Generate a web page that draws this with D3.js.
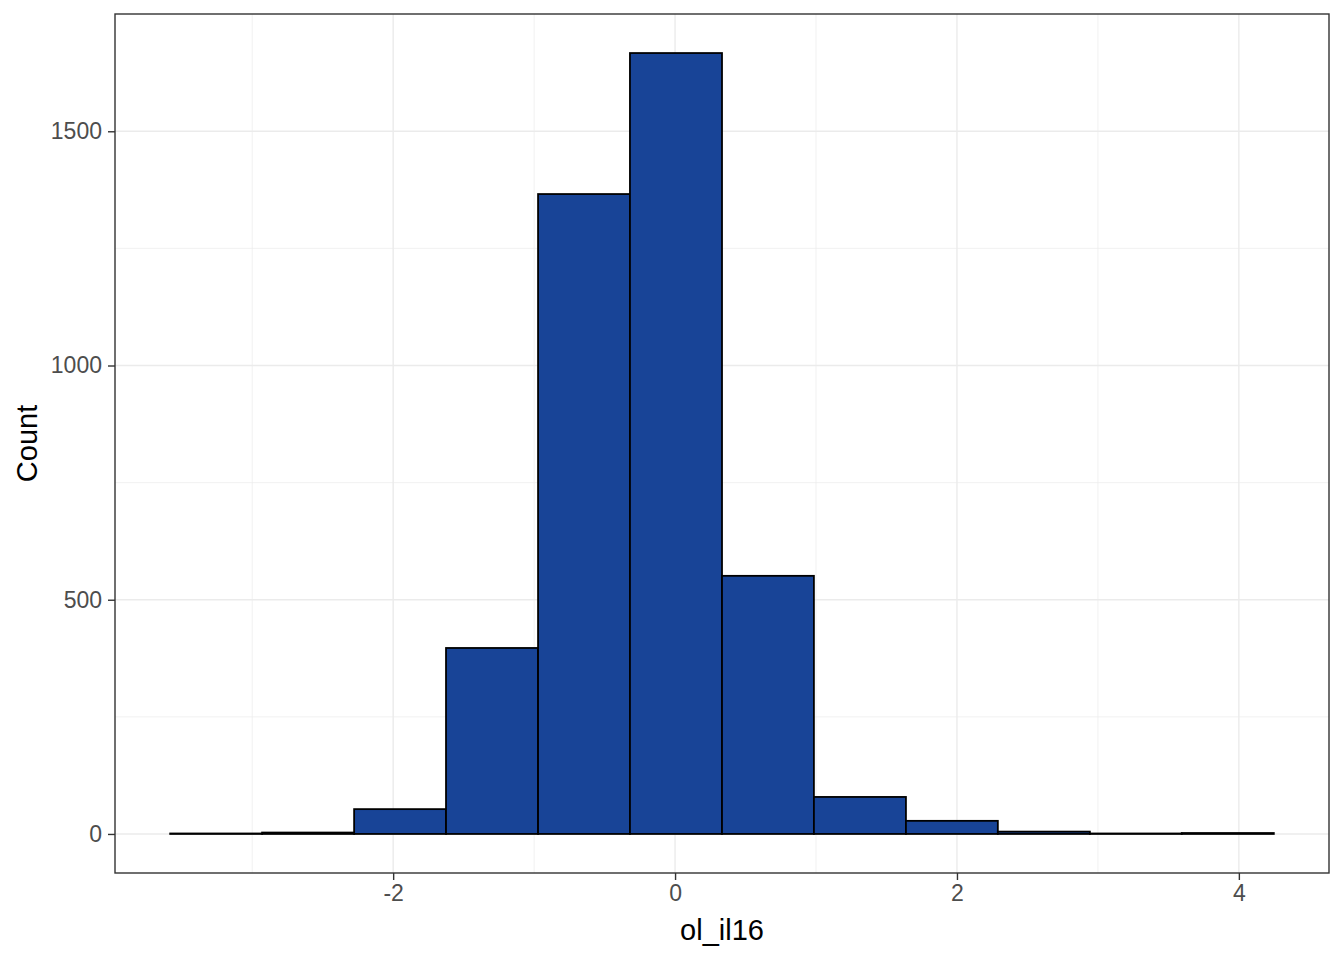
<!DOCTYPE html>
<html>
<head>
<meta charset="utf-8">
<script src="https://cdn.jsdelivr.net/npm/d3@7"></script>
<style>
  html, body { margin: 0; padding: 0; background: #fff; }
  svg { display: block; font-family: "Liberation Sans", Arial, sans-serif; }
</style>
</head>
<body>
<svg id="chart" width="1344" height="960"></svg>
<script>
// Histogram bin edges (13 edges -> 12 bins) and counts
const binEdges = [-3.582, -2.930, -2.277, -1.625, -0.972, -0.320, 0.333, 0.985, 1.638, 2.290, 2.943, 3.595, 4.248];
const counts = [1, 3, 53, 397, 1366, 1667, 551, 79, 28, 5, 1, 2];
const xTicks = [-2, 0, 2, 4];
const xMinor = [-3, -1, 1, 3];
const yTicks = [0, 500, 1000, 1500];
const yMinor = [250, 750, 1250];
const xTitle = "ol_il16";
const yTitle = "Count";

const W = 1344, H = 960;
const m = {left: 115, right: 15, top: 14, bottom: 87};
const svg = d3.select("#chart");

const bins = counts.map((c, i) => ({x0: binEdges[i], x1: binEdges[i + 1], n: c}));

const xmin = binEdges[0], xmax = binEdges[binEdges.length - 1];
const xpad = (xmax - xmin) * 0.05;
const ymax = d3.max(counts), ypad = ymax * 0.05;

const x = d3.scaleLinear().domain([xmin - xpad, xmax + xpad]).range([m.left, W - m.right]);
const y = d3.scaleLinear().domain([-ypad, ymax + ypad]).range([H - m.bottom, m.top]);

const g = svg.append("g");

// minor grid
g.selectAll(".xminor").data(xMinor).join("line")
  .attr("x1", d => x(d)).attr("x2", d => x(d))
  .attr("y1", m.top).attr("y2", H - m.bottom)
  .attr("stroke", "#EBEBEB").attr("stroke-width", 0.7);
g.selectAll(".yminor").data(yMinor).join("line")
  .attr("y1", d => y(d)).attr("y2", d => y(d))
  .attr("x1", m.left).attr("x2", W - m.right)
  .attr("stroke", "#EBEBEB").attr("stroke-width", 0.7);
// major grid
g.selectAll(".xmajor").data(xTicks).join("line")
  .attr("x1", d => x(d)).attr("x2", d => x(d))
  .attr("y1", m.top).attr("y2", H - m.bottom)
  .attr("stroke", "#EBEBEB").attr("stroke-width", 1.4);
g.selectAll(".ymajor").data(yTicks).join("line")
  .attr("y1", d => y(d)).attr("y2", d => y(d))
  .attr("x1", m.left).attr("x2", W - m.right)
  .attr("stroke", "#EBEBEB").attr("stroke-width", 1.4);

// bars
g.selectAll(".bar").data(bins).join("rect")
  .attr("x", d => x(d.x0))
  .attr("width", d => x(d.x1) - x(d.x0))
  .attr("y", d => y(d.n))
  .attr("height", d => y(0) - y(d.n))
  .attr("fill", "#184497")
  .attr("stroke", "#000")
  .attr("stroke-width", 1.8);

// panel border
g.append("rect")
  .attr("x", m.left).attr("y", m.top)
  .attr("width", W - m.left - m.right).attr("height", H - m.top - m.bottom)
  .attr("fill", "none").attr("stroke", "#333333").attr("stroke-width", 1.4);

// axes
const xAxis = d3.axisBottom(x).tickValues(xTicks).tickSize(7).tickPadding(5).tickFormat(d3.format("d"));
const yAxis = d3.axisLeft(y).tickValues(yTicks).tickSize(7).tickPadding(6).tickFormat(d3.format("d"));

const gx = svg.append("g").attr("transform", `translate(0,${H - m.bottom})`).call(xAxis);
const gy = svg.append("g").attr("transform", `translate(${m.left},0)`).call(yAxis);
[gx, gy].forEach(a => {
  a.select(".domain").remove();
  a.selectAll(".tick line").attr("stroke", "#333333").attr("stroke-width", 1.4);
  a.selectAll(".tick text").attr("fill", "#4D4D4D").attr("font-size", 23)
    .attr("font-family", "Liberation Sans, Arial, sans-serif");
});
gx.selectAll(".tick text").text(d => d < 0 ? "-" + Math.abs(d) : d);

// titles
svg.append("text")
  .attr("x", (m.left + W - m.right) / 2).attr("y", 940)
  .attr("text-anchor", "middle").attr("font-size", 29).attr("fill", "#000")
  .text(xTitle);
svg.append("text")
  .attr("transform", `translate(37,${(m.top + H - m.bottom) / 2}) rotate(-90)`)
  .attr("text-anchor", "middle").attr("font-size", 29).attr("fill", "#000")
  .text(yTitle);
</script>
</body>
</html>
